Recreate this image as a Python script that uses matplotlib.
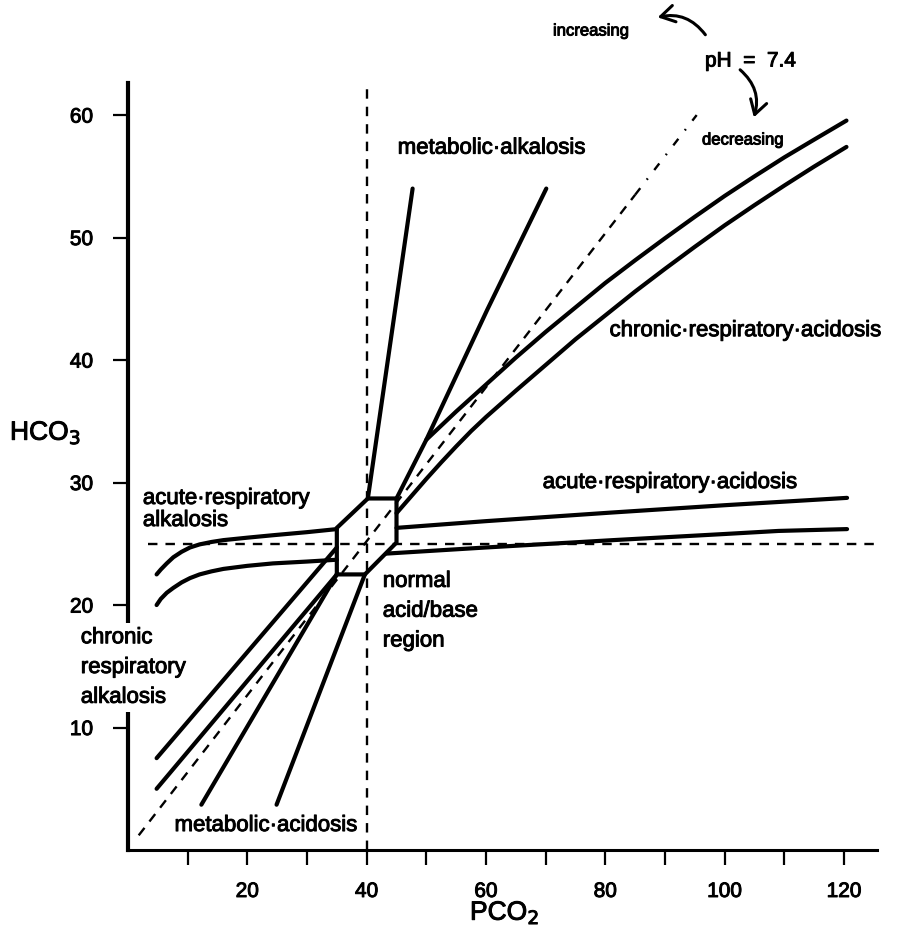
import matplotlib
matplotlib.use("Agg")
import matplotlib.pyplot as plt
import matplotlib.patheffects as pe
from matplotlib.patches import FancyArrowPatch

plt.rcParams['font.family'] = ['Liberation Sans', 'DejaVu Sans']

# acute respiratory band (left and right of the normal region)
acute_up_l_x = [4.8, 5.5, 6.5, 7.6, 9.0, 10.4, 12.0, 14.0, 16.0, 20.0, 24.3, 30.0, 35.0]
acute_up_l_y = [22.5, 22.9, 23.4, 23.9, 24.35, 24.7, 24.95, 25.15, 25.3, 25.5, 25.7, 25.95, 26.2]
acute_lo_l_x = [4.8, 5.5, 6.5, 7.6, 9.0, 10.4, 12.0, 14.0, 16.0, 20.0, 24.3, 30.0, 35.0]
acute_lo_l_y = [20.0, 20.5, 21.0, 21.4, 21.85, 22.2, 22.5, 22.75, 22.95, 23.2, 23.4, 23.55, 23.7]
acute_up_r_x = [45.0, 60.0, 81.0, 100.0, 120.5]
acute_up_r_y = [26.3, 26.85, 27.55, 28.15, 28.75]
acute_lo_r_x = [43.3, 60.0, 81.3, 100.0, 109.0, 120.5]
acute_lo_r_y = [24.2, 24.7, 25.3, 25.8, 26.05, 26.2]

# chronic respiratory acidosis band
chr_acid_up_x = [50, 55, 60, 65, 70, 75, 80, 85, 90, 95, 100, 105, 110, 115, 120.4]
chr_acid_up_y = [33.5, 35.8, 38.0, 40.2, 42.3, 44.3, 46.3, 48.15, 49.95, 51.7, 53.4, 55.0, 56.55, 58.0, 59.55]
chr_acid_lo_x = [45, 47.5, 50, 52.5, 55, 57.5, 60, 65, 70, 75, 80, 85, 90, 95, 100, 105, 110, 115, 120.4]
chr_acid_lo_y = [27.5, 28.9, 30.3, 31.65, 32.95, 34.2, 35.35, 37.5, 39.6, 41.7, 43.65, 45.6, 47.45,
                 49.25, 51.0, 52.65, 54.25, 55.8, 57.4]

# metabolic alkalosis band
met_alk_l_x = [40.2, 47.7]
met_alk_l_y = [28.7, 54.0]
met_alk_r_x = [45.0, 50.0, 60.2, 70.1]
met_alk_r_y = [28.7, 33.5, 44.1, 54.0]

# chronic respiratory alkalosis band
chr_alk_up_x = [4.8, 35.0]
chr_alk_up_y = [7.5, 24.7]
chr_alk_lo_x = [4.8, 35.0]
chr_alk_lo_y = [5.0, 22.5]

# metabolic acidosis band
met_acid_l_x = [12.3, 35.0]
met_acid_l_y = [3.7, 22.5]
met_acid_r_x = [24.9, 39.7]
met_acid_r_y = [3.7, 22.5]

# normal acid/base region
normal_x = [35.0, 39.7, 45.0, 45.0, 40.2, 35.0, 35.0]
normal_y = [22.5, 22.5, 25.1, 28.7, 28.7, 26.3, 22.5]

# pH = 7.4 isopleth
ph_x = [1.8, 85.0]
ph_y = [1.2, 53.5]
ph_far_x = [85.0, 95.3]
ph_far_y = [53.5, 60.0]

normal_pco2 = 40
normal_hco3 = 25

fig = plt.figure(figsize=(8.98, 9.34), dpi=100)
ax = fig.add_axes([0.1425, 0.0899, 0.834, 0.821])
ax.set_xlim(0, 125.5)
ax.set_ylim(0, 62.6)

lw = 3.0
for xs, ys in [(acute_up_l_x, acute_up_l_y), (acute_lo_l_x, acute_lo_l_y),
               (acute_up_r_x, acute_up_r_y), (acute_lo_r_x, acute_lo_r_y),
               (chr_acid_up_x, chr_acid_up_y), (chr_acid_lo_x, chr_acid_lo_y),
               (met_alk_l_x, met_alk_l_y), (met_alk_r_x, met_alk_r_y),
               (chr_alk_up_x, chr_alk_up_y), (chr_alk_lo_x, chr_alk_lo_y),
               (met_acid_l_x, met_acid_l_y), (met_acid_r_x, met_acid_r_y),
               (normal_x, normal_y)]:
    ax.plot(xs, ys, color='black', lw=lw, solid_capstyle='round', solid_joinstyle='miter')

dash = (0, (4.0, 3.4))
dlw = 1.7
ax.plot([normal_pco2, normal_pco2], [0, 62.4], color='black', lw=dlw, ls=dash)
ax.plot([3.3, 125.0], [normal_hco3, normal_hco3], color='black', lw=dlw, ls=dash)
ax.plot(ph_x, ph_y, color='black', lw=dlw, ls=dash)
ax.plot(ph_far_x, ph_far_y, color='black', lw=dlw, ls=(0, (3.5, 4.5, 0.7, 4.5)))

# axes
for s in ['top', 'right']:
    ax.spines[s].set_visible(False)
ax.spines['left'].set_linewidth(3)
ax.spines['bottom'].set_linewidth(2.2)
ax.set_xticks(range(10, 121, 10))
ax.set_xticklabels(['' if v % 20 else str(v) for v in range(10, 121, 10)])
ax.set_yticks(range(10, 61, 10))
ax.tick_params(axis='x', length=11, width=1.6, pad=12, labelsize=15)
ax.tick_params(axis='y', length=11, width=1.6, pad=14, labelsize=15)

bold = [pe.withStroke(linewidth=0.7, foreground='black')]
for lab in ax.get_xticklabels() + ax.get_yticklabels():
    lab.set_path_effects(bold)

fs = 16
ax.text(45.2, 57.3, 'metabolic·alkalosis', fontsize=fs, va='center', path_effects=bold)
ax.text(80.7, 42.4, 'chronic·respiratory·acidosis', fontsize=fs, va='center', clip_on=False,
        path_effects=bold)
ax.text(69.5, 30.0, 'acute·respiratory·acidosis', fontsize=fs, va='center', path_effects=bold)
ax.text(2.5, 28.7, 'acute·respiratory', fontsize=fs, va='center', path_effects=bold)
ax.text(2.5, 26.9, 'alkalosis', fontsize=fs, va='center', path_effects=bold)
ax.text(42.7, 19.5, 'normal\nacid/base\nregion', fontsize=fs, va='center', linespacing=1.55,
        path_effects=bold)
ax.text(-7.9, 14.9, 'chronic\nrespiratory\nalkalosis', fontsize=fs, va='center', linespacing=1.55,
        zorder=5, path_effects=bold, bbox=dict(facecolor='white', edgecolor='none', pad=3))
ax.text(7.8, 2.0, 'metabolic·acidosis', fontsize=fs, va='center', path_effects=bold)

fig.text(10 / 898, 1 - 433 / 934, 'HCO$_3$', fontsize=19, va='center', ha='left', path_effects=bold)
fig.text(470 / 898, 1 - 913 / 934, 'PCO$_2$', fontsize=19, va='center', ha='left', path_effects=bold)

# pH annotation above the plot
fig.text(553 / 898, 1 - 31 / 934, 'increasing', fontsize=12, va='center', path_effects=bold)
fig.text(705 / 898, 1 - 61 / 934, 'pH  =  7.4', fontsize=15, va='center', path_effects=bold)
fig.text(702 / 898, 1 - 140 / 934, 'decreasing', fontsize=12, va='center', path_effects=bold)
arr = dict(arrowstyle='->,head_length=0.5,head_width=0.3', lw=2.2, color='black',
           transform=fig.transFigure, mutation_scale=20)
fig.add_artist(FancyArrowPatch((707 / 898, 1 - 37 / 934), (655 / 898, 1 - 18 / 934),
                               connectionstyle='arc3,rad=0.35', **arr))
fig.add_artist(FancyArrowPatch((738 / 898, 1 - 68 / 934), (753 / 898, 1 - 120 / 934),
                               connectionstyle='arc3,rad=-0.35', **arr))

fig.savefig('out.png', dpi=100)
